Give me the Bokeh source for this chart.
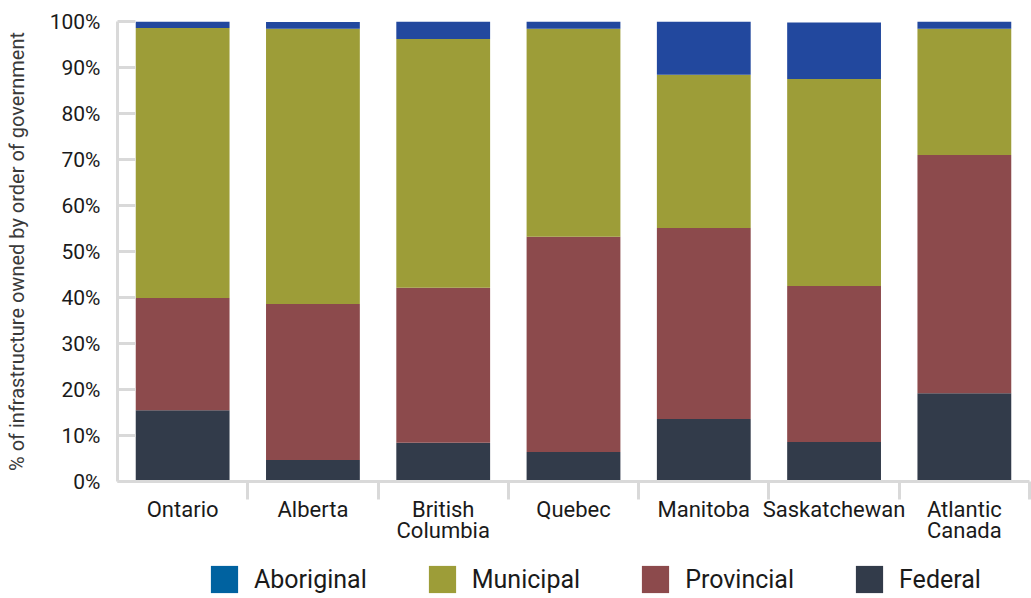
from bokeh.plotting import figure
from bokeh.layouts import column
from bokeh.models import (ColumnDataSource, Range1d, LinearAxis, FixedTicker,
                          PrintfTickFormatter, Legend, LegendItem)
from bokeh.embed import file_html
from bokeh.resources import INLINE

# ---- data ----
regions = ["Ontario", "Alberta", "British Columbia", "Quebec", "Manitoba", "Saskatchewan", "Atlantic Canada"]
region_labels = ["Ontario", "Alberta", "British\nColumbia", "Quebec", "Manitoba", "Saskatchewan", "Atlantic\nCanada"]
federal = [15.5, 4.7, 8.4, 6.4, 13.6, 8.6, 19.2]
provincial = [24.4, 33.9, 33.7, 46.8, 41.5, 33.9, 51.8]
municipal = [58.7, 59.8, 54.1, 45.2, 33.3, 45.0, 27.4]
aboriginal = [1.4, 1.5, 3.8, 1.6, 11.6, 12.3, 1.6]
y_ticks = [0, 10, 20, 30, 40, 50, 60, 70, 80, 90, 100]
series = ["Federal", "Provincial", "Municipal", "Aboriginal"]
legend_order = ["Aboriginal", "Municipal", "Provincial", "Federal"]
y_title = "% of infrastructure owned by order of government"

# ---- styles ----
COLORS = {"Federal": "#323b4a", "Provincial": "#8c4a4c", "Municipal": "#9d9d38", "Aboriginal": "#22489e"}
LEGEND_COLORS = dict(COLORS, Aboriginal="#0062a0")
GRAY = "#d9d9d9"
FONT = "Roboto"
TXT = "#1a1a1a"

n = len(regions)
xpos = [i + 0.5 for i in range(n)]          # category centres
boundaries = [i + 1 for i in range(n)]      # category separators

p = figure(width=1031, height=550,
           x_range=Range1d(0, n), y_range=Range1d(0, 100),
           output_backend="svg", toolbar_location=None,
           x_axis_location=None,
           min_border_left=117, min_border_right=2, min_border_top=21, min_border_bottom=69)
p.outline_line_color = None
p.xgrid.visible = False
p.ygrid.visible = False

# y axis
ya = p.yaxis[0]
ya.ticker = FixedTicker(ticks=y_ticks)
ya.formatter = PrintfTickFormatter(format="%d%%")
ya.major_tick_in = 18
ya.major_tick_out = 0
ya.minor_tick_line_color = None
ya.major_tick_line_color = GRAY
ya.major_tick_line_width = 3
ya.axis_line_color = GRAY
ya.axis_line_width = 3
ya.major_label_text_font = FONT
ya.major_label_text_font_size = "21px"
ya.major_label_text_color = TXT
ya.major_label_standoff = 17
ya.axis_label = y_title
ya.axis_label_text_font = FONT
ya.axis_label_text_font_size = "20px"
ya.axis_label_text_font_style = "normal"
ya.axis_label_text_color = "#3a3a3a"
ya.axis_label_standoff = 18

# x axis: separator ticks at category boundaries
sep = LinearAxis(ticker=FixedTicker(ticks=boundaries))
sep.major_tick_in = 0
sep.major_tick_out = 18
sep.major_tick_line_color = GRAY
sep.major_tick_line_width = 3
sep.minor_tick_line_color = None
sep.axis_line_color = GRAY
sep.axis_line_width = 3
sep.major_label_text_font_size = "0px"
sep.major_label_overrides = {b: "" for b in boundaries}
sep.major_label_standoff = 0
p.add_layout(sep, "below")

# x axis: category names at centres
cat_axis = LinearAxis(ticker=FixedTicker(ticks=xpos),
                      major_label_overrides=dict(zip(xpos, region_labels)))
cat_axis.axis_line_color = None
cat_axis.major_tick_line_color = None
cat_axis.minor_tick_line_color = None
cat_axis.major_tick_in = 0
cat_axis.major_tick_out = 0
cat_axis.major_label_standoff = -3
cat_axis.major_label_text_font = FONT
cat_axis.major_label_text_font_size = "22px"
cat_axis.major_label_text_color = TXT
cat_axis.major_label_text_line_height = 0.85
p.add_layout(cat_axis, "below")

# stacked bars
src = ColumnDataSource(dict(x=xpos, region=regions, Federal=federal, Provincial=provincial,
                            Municipal=municipal, Aboriginal=aboriginal))
p.vbar_stack(series, x="x", width=0.72, source=src,
             fill_color=[COLORS[s] for s in series], line_color=None)

# legend strip (own small figure under the chart; its frame aligns with the chart's)
lf = figure(width=1031, height=48, x_range=Range1d(0, 1), y_range=Range1d(0, 1),
            output_backend="svg", toolbar_location=None,
            x_axis_location=None, y_axis_location=None,
            min_border_left=0, min_border_right=0, min_border_top=0, min_border_bottom=0)
lf.outline_line_color = None
lf.xgrid.visible = False
lf.ygrid.visible = False
items = []
for name in legend_order:
    # zero-height bar: only its legend swatch is visible
    r = lf.vbar(x=[0.5], top=[0], bottom=[0], width=0.01,
                fill_color=LEGEND_COLORS[name], line_color=None)
    items.append(LegendItem(label=name, renderers=[r]))
lg = Legend(items=items, location=(90, 2), orientation="horizontal",
            glyph_width=34, glyph_height=34, label_standoff=13, spacing=58,
            padding=0, margin=0, border_line_color=None, background_fill_alpha=0,
            label_text_font=FONT, label_text_font_size="25px", label_text_color=TXT)
lf.add_layout(lg, "center")

layout = column(p, lf, spacing=0)
open("out.html", "w").write(file_html(layout, INLINE))
